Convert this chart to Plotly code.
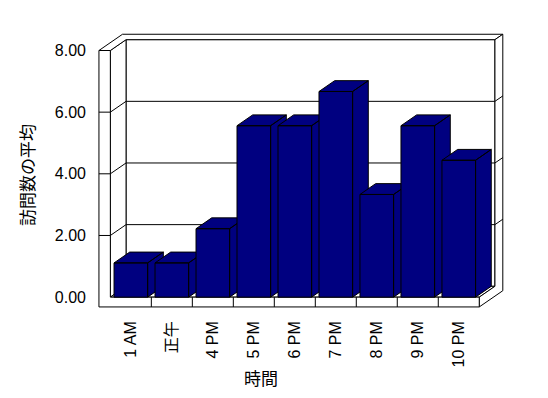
import plotly.graph_objects as go

# ---- data ----
categories = ["1 AM", "正午", "4 PM", "5 PM", "6 PM", "7 PM", "8 PM", "9 PM", "10 PM"]
values = [1.11, 1.11, 2.22, 5.56, 5.56, 6.67, 3.33, 5.56, 4.44]
y_ticks = [0, 2, 4, 6, 8]
y_tick_labels = ["0.00", "2.00", "4.00", "6.00", "8.00"]
x_title = "時間"
y_title = "訪問数の平均"

# ---- geometry ----
OFF = 8          # page body margin
W, H = 548 - OFF, 398 - OFF
PX_X = 41.0      # px per category
PX_Y = 30.75     # px per value unit
X0_PX = 131.2 - OFF   # px of category 0 (front plane)
Y0_PX = 296.9 - OFF   # px of value 0 (front plane)
DX = 15.7 / PX_X   # depth vector (x)
DY = 10.8 / PX_Y   # depth vector (y)
WALL_X = 11.4 / PX_X
FLOOR_Y = 9.8 / PX_Y
BACK_T = 0.5
HALF = 0.41
XR = [-0.85, 9.25]
YR = [-0.45, 8.6]

n = len(categories)
xl, xr = -0.5, n - 0.5
top = y_ticks[-1]


def P(x, y, d):
    return (x + DX * d, y + DY * d)


def poly(points):
    xs = [p[0] for p in points] + [points[0][0]]
    ys = [p[1] for p in points] + [points[0][1]]
    return xs, ys


def multi(polys):
    xs, ys = [], []
    for pts in polys:
        a, b = poly(pts)
        xs += a + [None]
        ys += b + [None]
    return xs, ys


fig = go.Figure()


def add_fill(polys, color):
    xs, ys = multi(polys)
    fig.add_trace(go.Scatter(x=xs, y=ys, mode="lines", fill="toself", fillcolor=color,
                             line=dict(color="black", width=1), hoverinfo="skip",
                             showlegend=False))


def add_lines(segs):
    xs, ys = [], []
    for a, b in segs:
        xs += [a[0], b[0], None]
        ys += [a[1], b[1], None]
    fig.add_trace(go.Scatter(x=xs, y=ys, mode="lines", line=dict(color="black", width=1),
                             hoverinfo="skip", showlegend=False))


# back wall front face
add_fill([[P(xl, 0, 1), P(xr, 0, 1), P(xr, top, 1), P(xl, top, 1)]], "white")
add_lines([(P(xl, t, 1), P(xr, t, 1)) for t in y_ticks[1:-1]])
# left wall inner face
add_fill([[P(xl, 0, 0), P(xl, 0, 1), P(xl, top, 1), P(xl, top, 0)]], "white")
add_lines([(P(xl, t, 0), P(xl, t, 1)) for t in y_ticks[1:-1]])
# floor top
add_fill([[P(xl, 0, 0), P(xr, 0, 0), P(xr, 0, 1), P(xl, 0, 1)]], "white")
# combined top of walls
add_fill([[P(xl - WALL_X, top, 0), P(xl, top, 0), P(xl, top, 1), P(xr, top, 1),
           P(xr, top, 1 + BACK_T), P(xl - WALL_X, top, 1 + BACK_T)]], "white")
# combined right side (floor + back wall)
add_fill([[P(xr, -FLOOR_Y, 0), P(xr, 0, 0), P(xr, 0, 1), P(xr, top, 1),
           P(xr, top, 1 + BACK_T), P(xr, -FLOOR_Y, 1 + BACK_T)]], "white")
add_lines([(P(xr, t, 1), P(xr, t, 1 + BACK_T)) for t in y_ticks[1:-1]])
# combined front (left wall + floor)
add_fill([[P(xl - WALL_X, -FLOOR_Y, 0), P(xr, -FLOOR_Y, 0), P(xr, 0, 0), P(xl, 0, 0),
           P(xl, top, 0), P(xl - WALL_X, top, 0)]], "white")
add_lines([(P(xl - WALL_X, t, 0), P(xl, t, 0)) for t in y_ticks[1:-1]] +
          [(P(i + 0.5, -FLOOR_Y, 0), P(i + 0.5, 0, 0)) for i in range(n - 1)])

# bars
for i, v in enumerate(values):
    a, b = i - HALF, i + HALF
    front = [P(a, 0, 0), P(b, 0, 0), P(b, v, 0), P(a, v, 0)]
    side = [P(b, 0, 0), P(b, 0, 1), P(b, v, 1), P(b, v, 0)]
    topf = [P(a, v, 0), P(b, v, 0), P(b, v, 1), P(a, v, 1)]
    add_fill([side, topf, front], "#000080")

# layout
l_px = X0_PX + XR[0] * PX_X
r_px = X0_PX + XR[1] * PX_X
b_px = Y0_PX - YR[0] * PX_Y
t_px = Y0_PX - YR[1] * PX_Y

tick_font = dict(family="Liberation Sans, Noto Sans CJK JP, sans-serif", size=16, color="black")
fig.update_layout(
    width=W, height=H,
    margin=dict(l=l_px, r=W - r_px, t=t_px, b=H - b_px, autoexpand=False),
    paper_bgcolor="white", plot_bgcolor="white",
    xaxis=dict(range=XR, showgrid=False, zeroline=False, showline=False,
               tickmode="array", tickvals=list(range(n)), ticktext=categories,
               tickangle=-90, ticks="", ticklabelstandoff=6, tickfont=tick_font,
               fixedrange=True),
    yaxis=dict(range=YR, showgrid=False, zeroline=False, showline=False,
               tickmode="array", tickvals=y_ticks, ticktext=y_tick_labels,
               ticks="", ticklabelstandoff=9, tickfont=tick_font, fixedrange=True),
    showlegend=False,
)

pw = r_px - l_px
ph = b_px - t_px
title_font = dict(family="Noto Sans CJK JP, sans-serif", size=17, color="black")
fig.add_annotation(text=x_title, xref="paper", yref="paper",
                   x=(261.5 - OFF - l_px) / pw, y=(b_px - (377 - OFF)) / ph,
                   xanchor="center", yanchor="middle", showarrow=False, font=title_font)
fig.add_annotation(text=y_title, xref="paper", yref="paper",
                   x=(27 - OFF - l_px) / pw, y=(b_px - (175.5 - OFF)) / ph, textangle=-90,
                   xanchor="center", yanchor="middle", showarrow=False, font=title_font)

fig.write_html("out.html", config={"displayModeBar": False})
